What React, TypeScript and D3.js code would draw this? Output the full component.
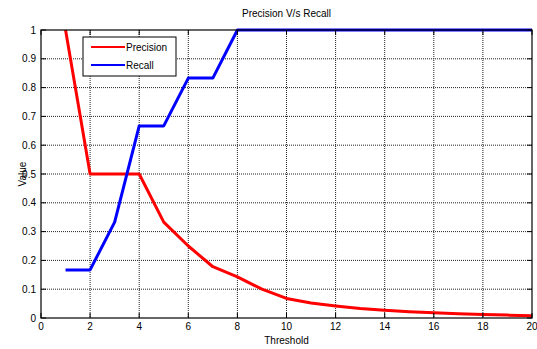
import { useEffect, useRef } from "react"
import * as d3 from "d3"

const thresholds = [1, 2, 3, 4, 5, 6, 7, 8, 9, 10, 11, 12, 13, 14, 15, 16, 17, 18, 19, 20]
const precision = [1, 0.5, 0.5, 0.5, 0.333, 0.25, 0.178, 0.143, 0.1, 0.068, 0.052, 0.042, 0.033, 0.027, 0.022, 0.018, 0.015, 0.012, 0.01, 0.008]
const recall = [0.167, 0.167, 0.333, 0.667, 0.667, 0.833, 0.833, 1, 1, 1, 1, 1, 1, 1, 1, 1, 1, 1, 1, 1]
const xTicks = [0, 2, 4, 6, 8, 10, 12, 14, 16, 18, 20]
const yTicks = [0, 0.1, 0.2, 0.3, 0.4, 0.5, 0.6, 0.7, 0.8, 0.9, 1]
const seriesNames = ["Precision", "Recall"]
const seriesColors = ["#ff0000", "#0000ff"]

export default function App() {
  const svgRef = useRef<SVGSVGElement>(null)

  useEffect(() => {
    const svg = d3.select(svgRef.current)
    svg.selectAll("*").remove()

    const left = 41, right = 532, top = 30, bottom = 318
    const x = d3.scaleLinear().domain([0, 20]).range([left, right])
    const y = d3.scaleLinear().domain([0, 1]).range([bottom, top])
    const font = "'Liberation Sans', Arial, sans-serif"

    svg.append("rect").attr("width", 537).attr("height", 349).attr("fill", "#fff")

    // grid
    const g = svg.append("g")
    g.selectAll(".vg").data(xTicks.slice(1, -1)).enter().append("line")
      .attr("x1", d => x(d)).attr("x2", d => x(d)).attr("y1", top).attr("y2", bottom)
      .attr("stroke", "#222").attr("stroke-width", 1).attr("stroke-dasharray", "1,1")
    g.selectAll(".hg").data(yTicks.slice(1, -1)).enter().append("line")
      .attr("y1", d => y(d)).attr("y2", d => y(d)).attr("x1", left).attr("x2", right)
      .attr("stroke", "#222").attr("stroke-width", 1).attr("stroke-dasharray", "1,1")

    // lines
    const line = d3.line<number>().x((d, i) => x(thresholds[i])).y(d => y(d))
    ;[precision, recall].forEach((s, k) => {
      svg.append("path").datum(s).attr("d", line).attr("fill", "none")
        .attr("stroke", seriesColors[k]).attr("stroke-width", 3).attr("stroke-linejoin", "round")
    })

    // frame
    svg.append("rect").attr("x", left).attr("y", top).attr("width", right - left).attr("height", bottom - top)
      .attr("fill", "none").attr("stroke", "#000").attr("stroke-width", 1.2)

    // ticks inward
    xTicks.forEach(t => {
      svg.append("line").attr("x1", x(t)).attr("x2", x(t)).attr("y1", bottom).attr("y2", bottom - 5).attr("stroke", "#000")
      svg.append("line").attr("x1", x(t)).attr("x2", x(t)).attr("y1", top).attr("y2", top + 5).attr("stroke", "#000")
    })
    yTicks.forEach(t => {
      svg.append("line").attr("y1", y(t)).attr("y2", y(t)).attr("x1", left).attr("x2", left + 5).attr("stroke", "#000")
      svg.append("line").attr("y1", y(t)).attr("y2", y(t)).attr("x1", right).attr("x2", right - 5).attr("stroke", "#000")
    })

    // tick labels
    svg.selectAll(".xl").data(xTicks).enter().append("text")
      .attr("x", d => x(d)).attr("y", bottom + 12).attr("text-anchor", "middle")
      .attr("font-family", font).attr("font-size", 10).attr("fill", "#000").text(d => String(d))
    svg.selectAll(".yl").data(yTicks).enter().append("text")
      .attr("x", left - 5).attr("y", d => y(d) + 3.5).attr("text-anchor", "end")
      .attr("font-family", font).attr("font-size", 10).attr("fill", "#000").text(d => String(d))

    // titles
    svg.append("text").attr("x", (left + right) / 2).attr("y", 17).attr("text-anchor", "middle")
      .attr("font-family", font).attr("font-size", 10).text("Precision V/s Recall")
    svg.append("text").attr("x", (left + right) / 2).attr("y", 344).attr("text-anchor", "middle")
      .attr("font-family", font).attr("font-size", 10).text("Threshold")
    svg.append("text").attr("transform", `translate(26,${(top + bottom) / 2}) rotate(-90)`).attr("text-anchor", "middle")
      .attr("font-family", font).attr("font-size", 10).text("Value")

    // legend
    const lg = svg.append("g")
    lg.append("rect").attr("x", 83).attr("y", 37).attr("width", 93).attr("height", 39)
      .attr("fill", "#fff").attr("stroke", "#000").attr("stroke-width", 1)
    seriesNames.forEach((n, i) => {
      const ly = 47 + i * 18
      lg.append("line").attr("x1", 91).attr("x2", 125).attr("y1", ly).attr("y2", ly)
        .attr("stroke", seriesColors[i]).attr("stroke-width", 2)
      lg.append("text").attr("x", 126).attr("y", ly + 3.5).attr("font-family", font).attr("font-size", 10).text(n)
    })
  }, [])

  return (
    <svg ref={svgRef} width={537} height={349} style={{ position: "absolute", left: 0, top: 0, display: "block" }} />
  )
}
